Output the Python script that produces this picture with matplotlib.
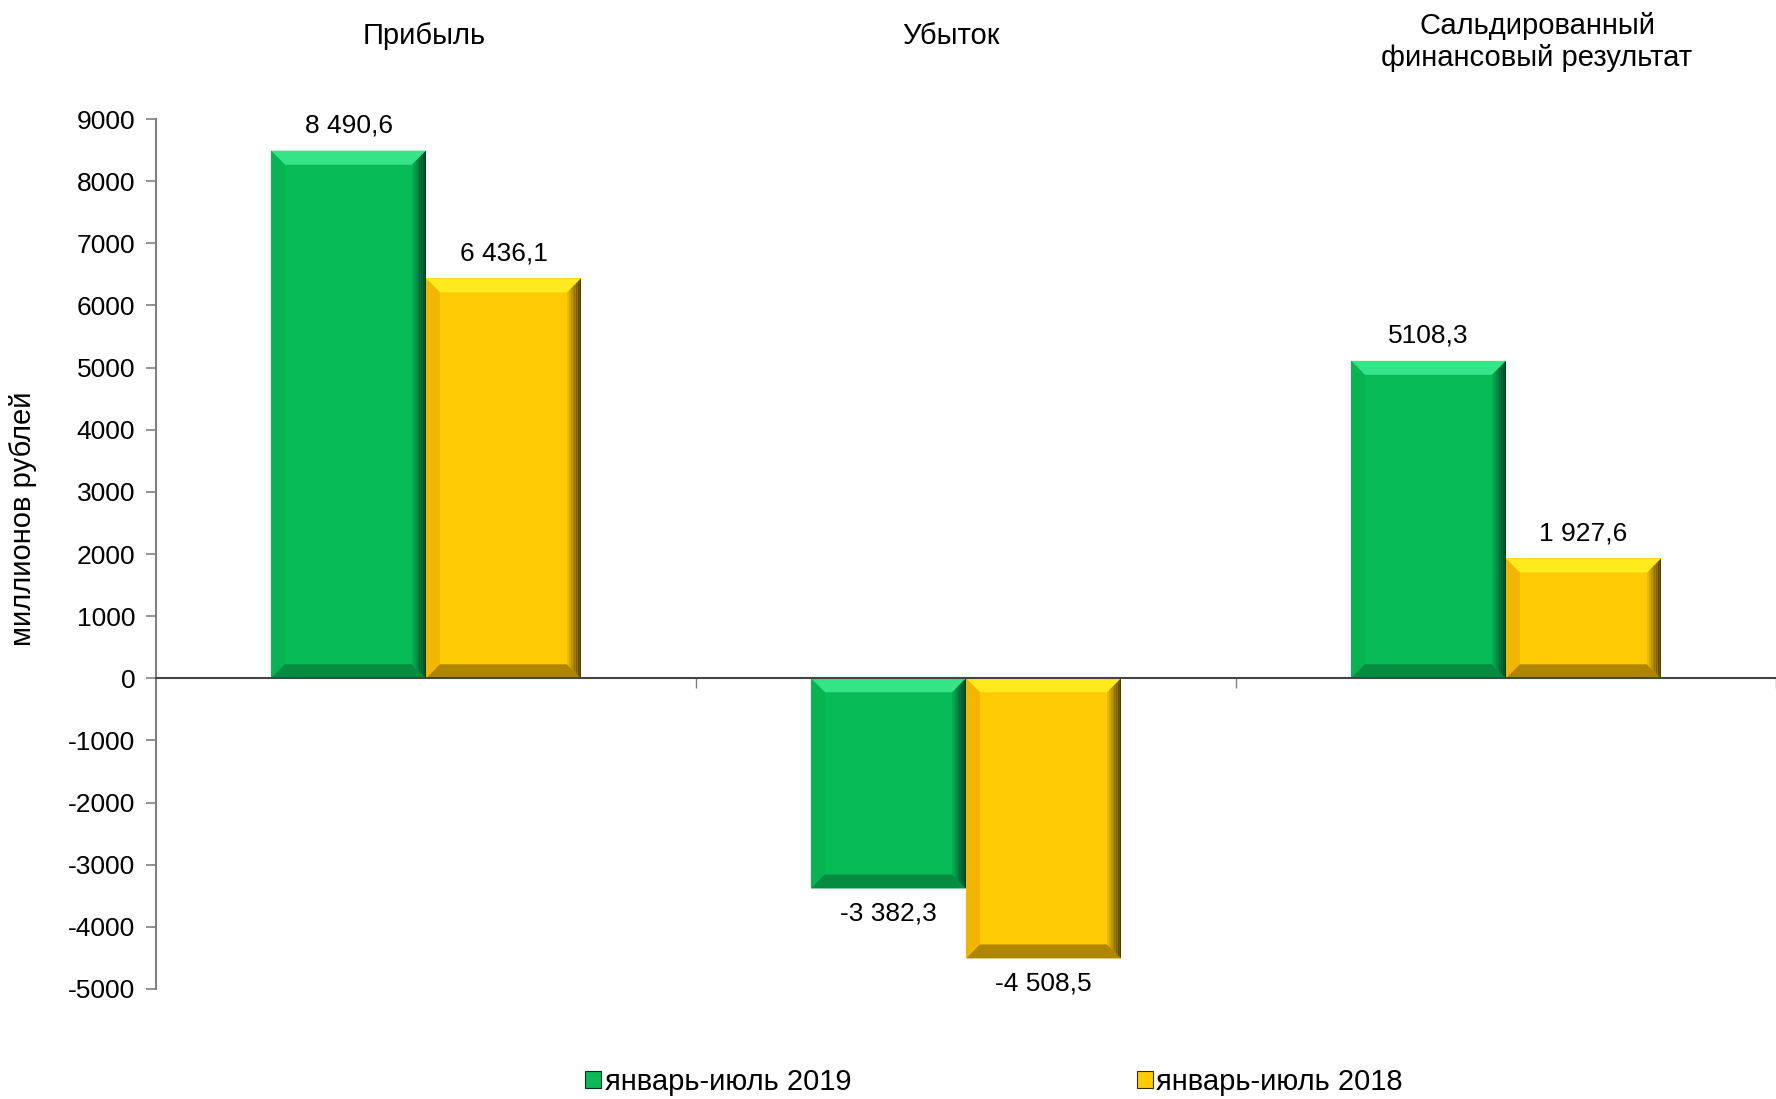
import numpy as np
import matplotlib.pyplot as plt
from matplotlib.patches import Polygon, Patch
from matplotlib.colors import to_rgb

plt.rcParams['font.family'] = ['Liberation Sans', 'DejaVu Sans']
plt.rcParams['axes.unicode_minus'] = False

categories = ['Прибыль', 'Убыток', 'Сальдированный\nфинансовый результат']
series_names = ['январь-июль 2019', 'январь-июль 2018']
values_2019 = [8490.6, -3382.3, 5108.3]
values_2018 = [6436.1, -4508.5, 1927.6]
labels_2019 = ['8 490,6', '-3 382,3', '5108,3']
labels_2018 = ['6 436,1', '-4 508,5', '1 927,6']
yticks = list(range(-5000, 9001, 1000))

# main, top, left, bottom, right-dark
palette = {
    'green': ('#07BB56', '#36E488', '#08B352', '#058C41', '#01301A'),
    'yellow': ('#FFCB05', '#FFEA1E', '#F2B600', '#B08600', '#3A2C00'),
}

W, H = 1776, 1099
cat_px = 544
fig = plt.figure(figsize=(W / 100, H / 100), dpi=100)
ax = fig.add_axes([156 / W, 1 - 989 / H, 1 - 156 / W, (989 - 119) / H])
ax.set_xlim(-0.5, -0.5 + (W - 156) / cat_px)
ax.set_ylim(-5000, 9000)

bar_w = 0.287
x = np.arange(len(categories))

# data units per pixel, for bevel sizes
ppx = (ax.get_xlim()[1] - ax.get_xlim()[0]) / (W - 156)
ppy = (ax.get_ylim()[1] - ax.get_ylim()[0]) / (989 - 119)
bev = 14
bx, by = bev * ppx, bev * ppy


def mix(c1, c2, t):
    a, b = np.array(to_rgb(c1)), np.array(to_rgb(c2))
    return tuple(a + (b - a) * t)


def bevel_bar(x0, x1, v, cols):
    main, top, left, bot, dark = cols
    y0, y1 = min(0, v), max(0, v)
    ax.add_patch(Polygon([(x0, y1), (x1, y1), (x1 - bx, y1 - by), (x0 + bx, y1 - by)],
                         closed=True, fc=top, ec='none', zorder=3))
    ax.add_patch(Polygon([(x0, y0), (x0, y1), (x0 + bx, y1 - by), (x0 + bx, y0 + by)],
                         closed=True, fc=left, ec='none', zorder=3))
    ax.add_patch(Polygon([(x0, y0), (x1, y0), (x1 - bx, y0 + by), (x0 + bx, y0 + by)],
                         closed=True, fc=bot, ec='none', zorder=3))
    # right side: gradient slabs going dark towards the edge
    n = 8
    for i in range(n):
        a = x1 - bx + i * bx / n
        c = x1 - bx + (i + 1) * bx / n
        ta = y1 - by * (x1 - a) / bx
        tc = y1 - by * (x1 - c) / bx
        ba = y0 + by * (x1 - a) / bx
        bc = y0 + by * (x1 - c) / bx
        ax.add_patch(Polygon([(a, ta), (c, tc), (c, bc), (a, ba)], closed=True,
                             fc=mix(main, dark, (i + 1) / n * 0.9), ec='none', zorder=3))


for vals, labs, off, key in [(values_2019, labels_2019, -bar_w, 'green'),
                             (values_2018, labels_2018, 0, 'yellow')]:
    bars = ax.bar(x + off, vals, width=bar_w, align='edge',
                  color=palette[key][0], edgecolor='none', zorder=2)
    for b, v, lab in zip(bars, vals, labs):
        bevel_bar(b.get_x(), b.get_x() + b.get_width(), v, palette[key])
        ax.annotate(lab, (b.get_x() + b.get_width() / 2, v),
                    xytext=(0, 18 if v > 0 else -18), textcoords='offset points',
                    ha='center', va='center', fontsize=19)

ax.set_yticks(yticks)
ax.set_yticklabels([str(t) for t in yticks])
ax.set_xticks(x + 0.5)
ax.set_xticklabels([])
ax.tick_params(axis='y', labelsize=19, length=7, width=1.2, color='#808080', pad=8)
ax.tick_params(axis='x', length=7, width=1, color='#808080', direction='out')
for s in ['top', 'right']:
    ax.spines[s].set_visible(False)
ax.spines['left'].set_color('#808080')
ax.spines['left'].set_linewidth(1.5)
ax.spines['bottom'].set_position(('data', 0))
ax.spines['bottom'].set_color('#444444')
ax.spines['bottom'].set_linewidth(1.5)
ax.spines['bottom'].set_zorder(4)

ax.set_ylabel('миллионов рублей', fontsize=21)
ax.yaxis.set_label_coords((37 - 156) / (W - 156), (989 - 519) / (989 - 119))

# category headers above the plot
header_x = [424, 951, 1537]
header_y = [36, 36, 42]
for hx, hy, cat in zip(header_x, header_y, categories):
    fig.text(hx / W, 1 - hy / H, cat, ha='center', va='center', fontsize=21,
             linespacing=1.15)

handles = [Patch(fc=palette['green'][0], ec=palette['green'][4], lw=0.8),
           Patch(fc=palette['yellow'][0], ec=palette['yellow'][4], lw=0.8)]
fig.legend(handles, series_names, loc='center', bbox_to_anchor=(994 / W, 1 - 1082 / H),
           ncol=2, frameon=False, fontsize=21, handlelength=0.55, handleheight=0.55,
           handletextpad=0.12, columnspacing=9.8)

fig.savefig('out.png', dpi=100)
